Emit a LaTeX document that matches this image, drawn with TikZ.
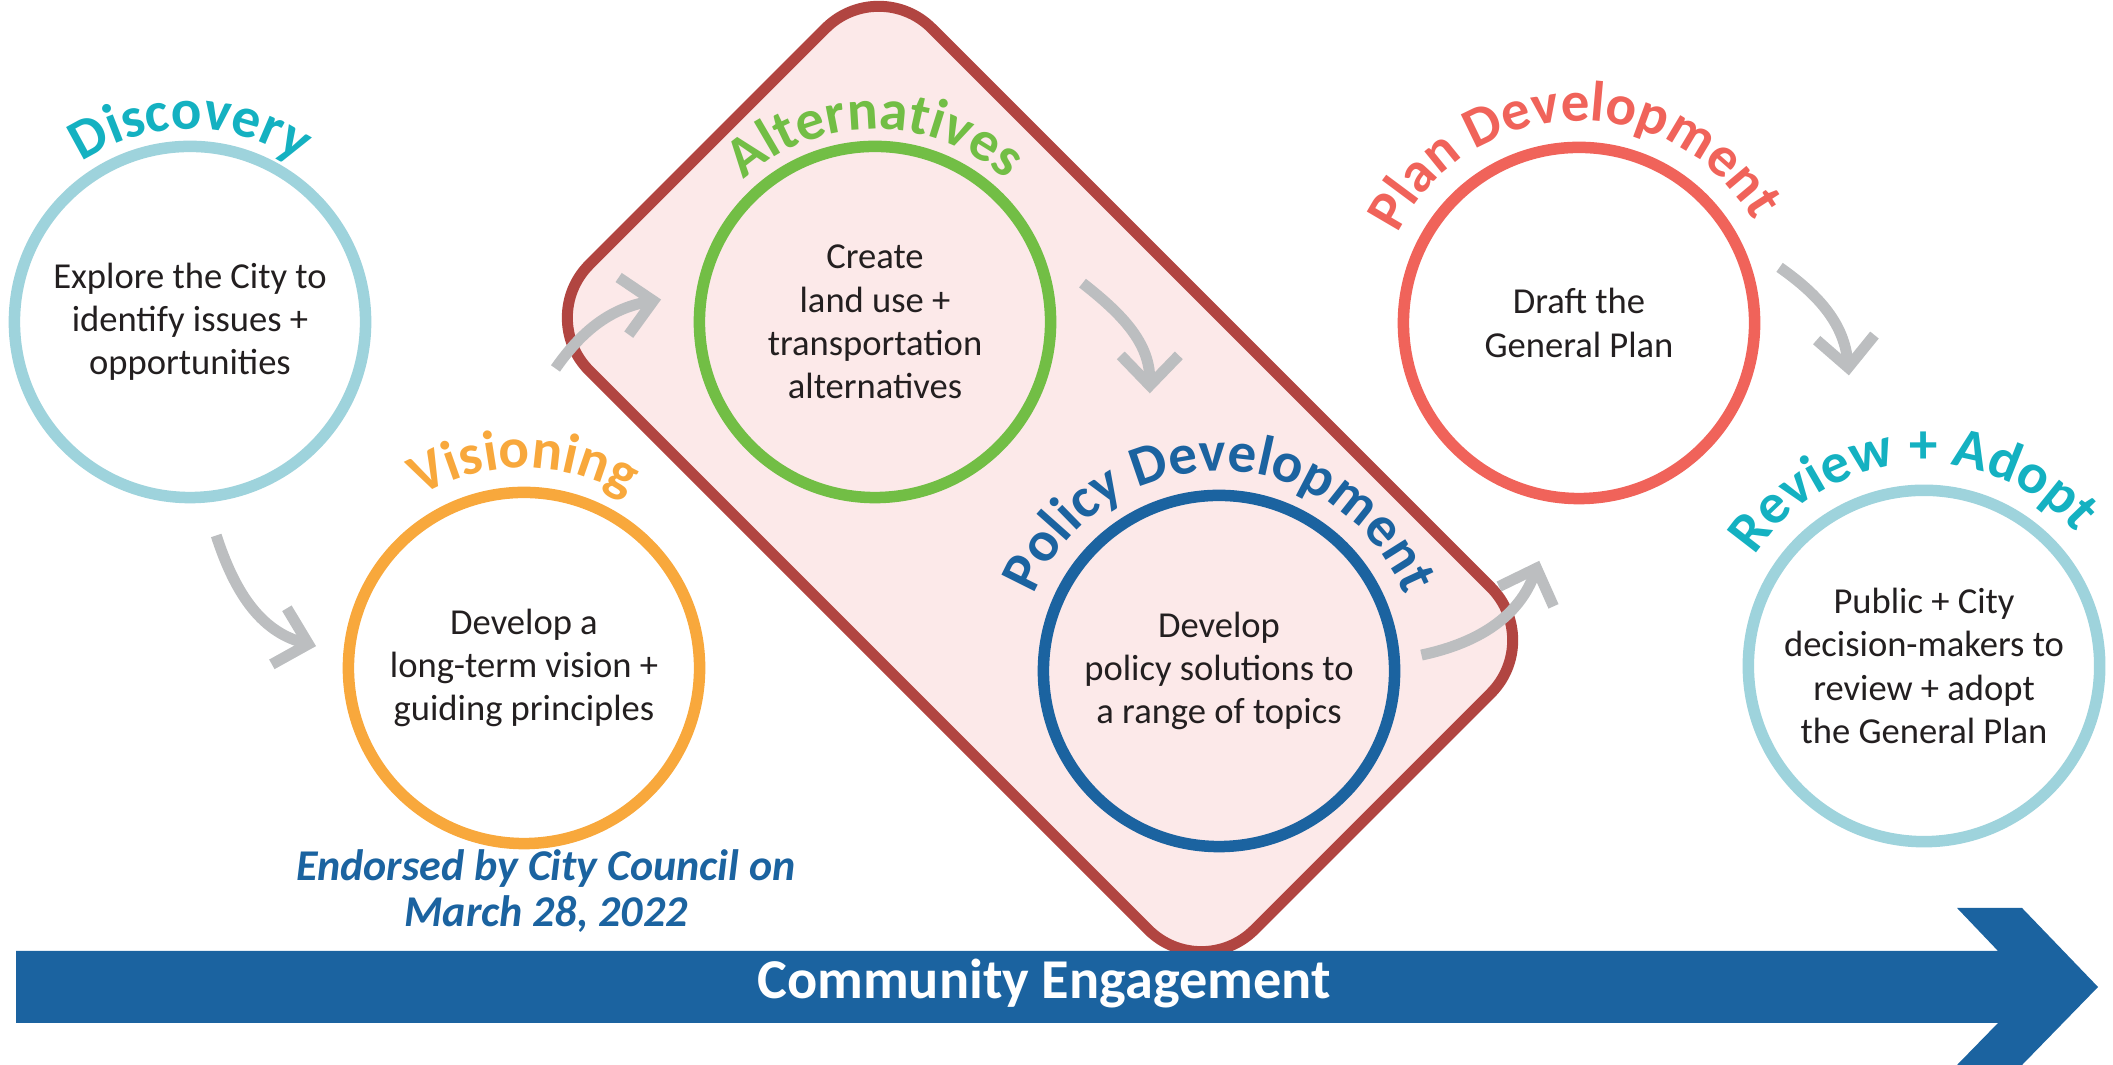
\documentclass[tikz,border=0pt]{standalone}
\usepackage{fontspec}
\setmainfont{Carlito}
\usetikzlibrary{arrows.meta,positioning,calc,decorations.text}

\definecolor{discline}{HTML}{9ED3DC}
\definecolor{discteal}{HTML}{14B1C1}
\definecolor{visorange}{HTML}{F8A83C}
\definecolor{altgreen}{HTML}{72BE45}
\definecolor{polblue}{HTML}{1B63A0}
\definecolor{plancoral}{HTML}{F0635A}
\definecolor{boxred}{HTML}{B14541}
\definecolor{boxpink}{HTML}{FCE9E9}
\definecolor{arrowgray}{HTML}{BCBEC0}
\definecolor{bodytext}{HTML}{231F20}

\newcommand{\ttlfont}{\fontsize{16.2}{20}\selectfont\bfseries}

\begin{document}
\begin{tikzpicture}[
    x=0.01cm, y=0.01cm,
    phase/.style={circle, draw=#1, line width=0.115cm, minimum size=3.51cm,
                  align=center, text=bodytext, font=\fontsize{10.4}{12.3}\selectfont},
    group box/.style={rectangle, draw=boxred, fill=boxpink, line width=0.11cm,
                  rounded corners=0.75cm, minimum width=9.4cm, minimum height=4.84cm},
    arrow/.style={-{Straight Barb[length=0.3cm, width=0.58cm]}, draw=arrowgray, line width=0.11cm},
    phase title/.style 2 args={decorate, decoration={text along path, text align=center,
                  text color=#1, text={|\ttlfont|#2}}},
    endorse/.style={align=center, inner sep=0pt, text=polblue,
                  font=\fontsize{12.5}{12.9}\selectfont\bfseries\itshape}
]
\useasboundingbox (0,0) rectangle (2113,1065);

% Box round Alternatives and Policy Development
\node[group box, rotate=-45] (devbox) at (1040,586) {};

% Phase circles
\node[phase=discline, fill=white] (disc) at (190,743) {Explore the City to\\identify issues +\\opportunities};
\node[phase=visorange] (vis) at (524,397) {Develop a\\long-term vision +\\guiding principles};
\node[phase=altgreen] (alt) at (875,743) {Create\\land use +\\transportation\\alternatives};
\node[phase=polblue] (pol) at (1219,394) {Develop\\policy solutions to\\a range of topics};
\node[phase=plancoral, fill=white] (plan) at (1579,742) {Draft the\\General Plan};
\node[phase=discline, fill=white] (rev) at (1924,399) {Public + City\\decision-makers to\\review + adopt\\the General Plan};

% Curved titles over the circles
\path[phase title={discteal}{Discovery}] ($(disc)+(200:1.93cm)$) arc[start angle=200, end angle=-20, radius=1.93cm];
\path[phase title={visorange}{Visioning}] ($(vis)+(200:2.0cm)$) arc[start angle=200, end angle=-20, radius=2.0cm];
\path[phase title={altgreen}{Alternatives}] ($(alt)+(200:1.93cm)$) arc[start angle=200, end angle=-20, radius=1.93cm];
\path[phase title={polblue}{Policy Development}] ($(pol)+(200:2.0cm)$) arc[start angle=200, end angle=-20, radius=2.0cm];
\path[phase title={plancoral}{Plan Development}] ($(plan)+(202:2.02cm)$) arc[start angle=202, end angle=-18, radius=2.02cm];
\path[phase title={discteal}{Review + Adopt}] ($(rev)+(204:2.02cm)$) arc[start angle=204, end angle=-16, radius=2.02cm];

% Gray arrows between phases
\draw[arrow] ($(disc)+(-83:2.15cm)$) to[out=-72, in=165] ($(vis)+(174:2.09cm)$);
\draw[arrow] ($(vis)+(84:3.01cm)$) to[out=55, in=190] ($(alt)+(174:2.15cm)$);
\draw[arrow] ($(alt)+(10.6:2.11cm)$) to[out=-38, in=90] ($(pol)+(104:2.86cm)$);
\draw[arrow] ($(pol)+(4.5:2.03cm)$) to[out=12, in=250] ($(plan)+(-99.5:2.41cm)$);
\draw[arrow] ($(plan)+(15.5:2.08cm)$) to[out=-35, in=95] ($(rev)+(104.5:3.0cm)$);

% Endorsement note
\node[endorse, below=0cm of vis, xshift=0.22cm] (note) {Endorsed by City Council on\\March 28, 2022};

% Community Engagement arrow
\fill[polblue] (16,114) -- (1998,114) -- (1957,157) -- (2022,157) -- (2098,78)
    -- (2022,0) -- (1957,0) -- (1998,42) -- (16,42) -- cycle;
\node[anchor=base, text=white, font=\fontsize{16}{19}\selectfont\bfseries] (engage) at (1044,66) {Community Engagement};

\end{tikzpicture}
\end{document}
